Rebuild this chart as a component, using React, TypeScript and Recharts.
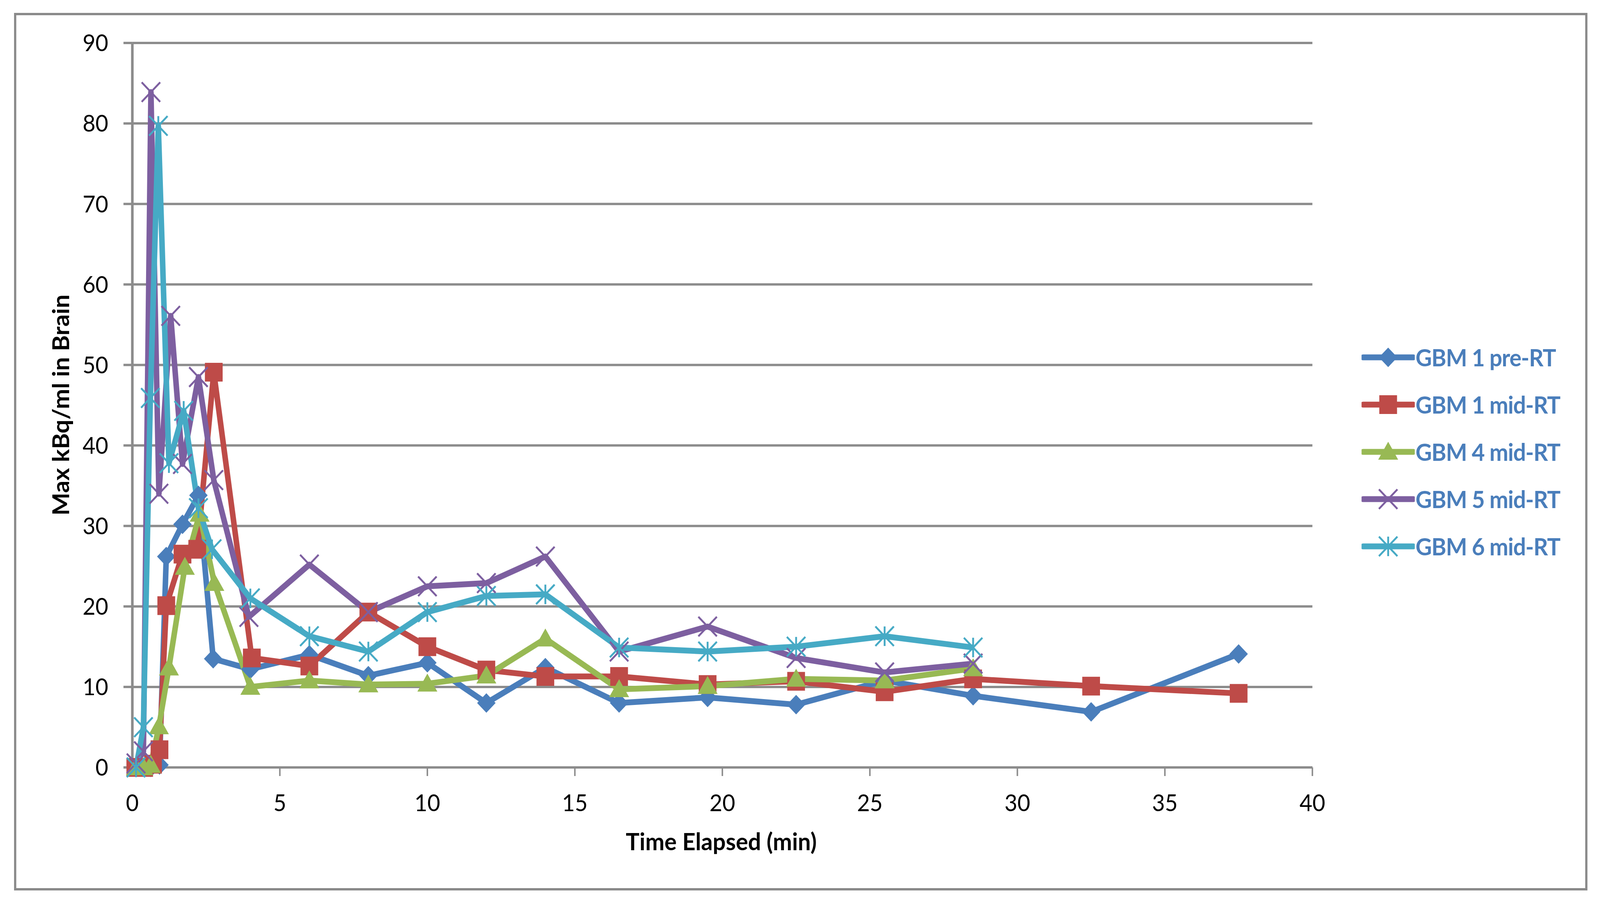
import React from 'react';
import { LineChart, Line, XAxis, YAxis, CartesianGrid, Legend } from 'recharts';

const seriesNames = ['GBM 1 pre-RT', 'GBM 1 mid-RT', 'GBM 4 mid-RT', 'GBM 5 mid-RT', 'GBM 6 mid-RT'];
const seriesColors = ['#4A7EBB', '#BE4B48', '#98B954', '#7D5FA0', '#46AAC5'];
const seriesMarkers = ['diamond', 'square', 'triangle', 'cross', 'star'];

const gbm1PreTime = [0.125, 0.375, 0.625, 0.92, 1.15, 1.7, 2.24, 2.74, 4, 6, 8, 10, 12, 14, 16.5, 19.5, 22.5, 25.5, 28.5, 32.5, 37.5];
const gbm1PreValue = [0, 0, 0, 0.3, 26.2, 30.2, 33.8, 13.5, 12.2, 14.0, 11.4, 13.0, 8.0, 12.4, 8.0, 8.7, 7.8, 10.8, 8.9, 6.9, 14.1];

const gbm1MidTime = [0.1, 0.4, 0.7, 0.92, 1.15, 1.7, 2.2, 2.76, 4.05, 6, 8, 10, 12, 14, 16.5, 19.5, 22.5, 25.5, 28.5, 32.5, 37.5];
const gbm1MidValue = [0, 0, 0.4, 2.2, 20.1, 26.5, 27.1, 49.1, 13.6, 12.6, 19.3, 15.0, 12.1, 11.3, 11.3, 10.3, 10.7, 9.4, 11.0, 10.1, 9.2];

const gbm4MidTime = [0.125, 0.375, 0.625, 0.9, 1.24, 1.78, 2.28, 2.78, 4, 6, 8, 10, 12, 14, 16.5, 19.5, 22.5, 25.5, 28.5];
const gbm4MidValue = [0, 0, 0.3, 5.1, 12.4, 24.9, 31.5, 22.9, 10.0, 10.8, 10.3, 10.4, 11.4, 16.0, 9.7, 10.1, 11.0, 10.8, 12.3];

const gbm5MidTime = [0.125, 0.375, 0.63, 0.9, 1.3, 1.7, 2.24, 2.76, 3.95, 6, 8, 10, 12, 14, 16.5, 19.5, 22.5, 25.5, 28.5];
const gbm5MidValue = [0.5, 2.0, 83.9, 34.0, 56.1, 37.7, 48.5, 35.7, 18.7, 25.2, 19.3, 22.5, 22.9, 26.2, 14.4, 17.5, 13.6, 11.8, 12.9];

const gbm6MidTime = [0.125, 0.375, 0.61, 0.88, 1.24, 1.74, 2.24, 2.7, 4, 6, 8, 10, 12, 14, 16.5, 19.5, 22.5, 25.5, 28.5];
const gbm6MidValue = [0, 5.0, 45.9, 79.7, 37.8, 44.3, 32.2, 27.1, 21.0, 16.3, 14.4, 19.3, 21.3, 21.5, 14.9, 14.4, 15.0, 16.3, 14.9];

const xTicks = [0, 5, 10, 15, 20, 25, 30, 35, 40];
const yTicks = [0, 10, 20, 30, 40, 50, 60, 70, 80, 90];

const xTitle = 'Time Elapsed (min)';
const yTitle = 'Max kBq/ml in Brain';

const toPoints = (times: number[], values: number[]) => times.map((t, i) => ({ t, v: values[i] }));

const seriesData = [
  toPoints(gbm1PreTime, gbm1PreValue),
  toPoints(gbm1MidTime, gbm1MidValue),
  toPoints(gbm4MidTime, gbm4MidValue),
  toPoints(gbm5MidTime, gbm5MidValue),
  toPoints(gbm6MidTime, gbm6MidValue),
];

const FONT = 'Lato, "Open Sans", sans-serif';
const GRID = '#8C8C8C';
const W = 4328;
const H = 2307;

function Marker({ cx, cy, shape, color }: { cx: number; cy: number; shape: string; color: string }) {
  const h = 25;
  if (shape === 'diamond') {
    return <polygon points={`${cx},${cy - h} ${cx + h},${cy} ${cx},${cy + h} ${cx - h},${cy}`} fill={color} />;
  }
  if (shape === 'square') {
    return <rect x={cx - 24} y={cy - 24} width={48} height={48} fill={color} />;
  }
  if (shape === 'triangle') {
    return <polygon points={`${cx},${cy - 26} ${cx + 27},${cy + 20} ${cx - 27},${cy + 20}`} fill={color} />;
  }
  if (shape === 'cross') {
    return (
      <g stroke={color} strokeWidth={5}>
        <line x1={cx - h} y1={cy - h} x2={cx + h} y2={cy + h} />
        <line x1={cx - h} y1={cy + h} x2={cx + h} y2={cy - h} />
      </g>
    );
  }
  return (
    <g stroke={color} strokeWidth={5}>
      <line x1={cx - h} y1={cy - h} x2={cx + h} y2={cy + h} />
      <line x1={cx - h} y1={cy + h} x2={cx + h} y2={cy - h} />
      <line x1={cx} y1={cy - h} x2={cx} y2={cy + h} />
    </g>
  );
}

function LegendContent() {
  return (
    <div style={{ display: 'flex', flexDirection: 'column' }}>
      {seriesNames.map((name, i) => (
        <div key={name} style={{ height: 121, display: 'flex', alignItems: 'center' }}>
          <svg width={144} height={70} style={{ display: 'block' }}>
            <line x1={4} y1={35} x2={140} y2={35} stroke={seriesColors[i]} strokeWidth={15} strokeLinecap="round" />
            <Marker cx={72} cy={35} shape={seriesMarkers[i]} color={seriesColors[i]} />
          </svg>
          <span
            style={{
              fontFamily: FONT,
              fontWeight: 700,
              fontSize: 61,
              color: '#4A7EBB',
              letterSpacing: -1.2,
              whiteSpace: 'nowrap',
              marginLeft: 2,
            }}
          >
            {name}
          </span>
        </div>
      ))}
    </div>
  );
}

const tickStyle = { fontFamily: FONT, fontSize: 60, fill: '#000' };

export default function App() {
  const vw = typeof window !== 'undefined' ? window.innerWidth : W;
  const vh = typeof window !== 'undefined' ? window.innerHeight : H;
  const sx = vw / W;
  const sy = vh / H;
  return (
    <div
      style={{
        position: 'fixed',
        left: 0,
        top: 0,
        width: W,
        height: H,
        background: '#fff',
        transform: `scale(${sx}, ${sy})`,
        transformOrigin: '0 0',
        overflow: 'hidden',
      }}
    >
      <div
        style={{
          position: 'absolute',
          left: 38,
          top: 33,
          width: 4256,
          height: 2247,
          boxSizing: 'border-box',
          border: '6px solid #8A8A8A',
        }}
      />
      <div style={{ position: 'absolute', left: 0, top: 0 }}>
        <LineChart width={W} height={H} margin={{ top: 110, right: 778, bottom: 0, left: 0 }}>
          <CartesianGrid vertical={false} stroke={GRID} strokeWidth={6} />
          <XAxis
            type="number"
            dataKey="t"
            domain={[0, 40]}
            ticks={xTicks}
            interval={0}
            height={342}
            tickSize={22}
            tickMargin={47}
            axisLine={{ stroke: GRID, strokeWidth: 6 }}
            tickLine={{ stroke: GRID, strokeWidth: 4 }}
            tick={tickStyle}
            label={{
              content: () => (
                <text x={1951} y={2161} textAnchor="middle" dominantBaseline="middle" fontFamily={FONT} fontWeight={700} fontSize={62} fill="#000">
                  {xTitle}
                </text>
              ),
            }}
          />
          <YAxis
            type="number"
            domain={[0, 90]}
            ticks={yTicks}
            interval={0}
            width={358}
            tickSize={24}
            tickMargin={41}
            axisLine={{ stroke: GRID, strokeWidth: 7 }}
            tickLine={{ stroke: GRID, strokeWidth: 6 }}
            tick={tickStyle}
            label={{
              content: () => (
                <text
                  x={171}
                  y={1037}
                  textAnchor="middle"
                  dominantBaseline="middle"
                  transform="rotate(-90, 171, 1037)"
                  fontFamily={FONT}
                  fontWeight={700}
                  fontSize={62}
                  fill="#000"
                >
                  {yTitle}
                </text>
              ),
            }}
          />
          <Legend
            layout="vertical"
            align="center"
            verticalAlign="middle"
            wrapperStyle={{ left: 3683, top: 854, width: 600 }}
            content={() => <LegendContent />}
          />
          {seriesData.map((data, i) => (
            <Line
              key={seriesNames[i]}
              name={seriesNames[i]}
              data={data}
              dataKey="v"
              type="linear"
              stroke={seriesColors[i]}
              strokeWidth={15}
              strokeLinejoin="round"
              isAnimationActive={false}
              dot={(p: any) => (
                <Marker key={`${i}-${p.index}`} cx={p.cx} cy={p.cy} shape={seriesMarkers[i]} color={seriesColors[i]} />
              )}
              activeDot={false}
            />
          ))}
        </LineChart>
      </div>
    </div>
  );
}
